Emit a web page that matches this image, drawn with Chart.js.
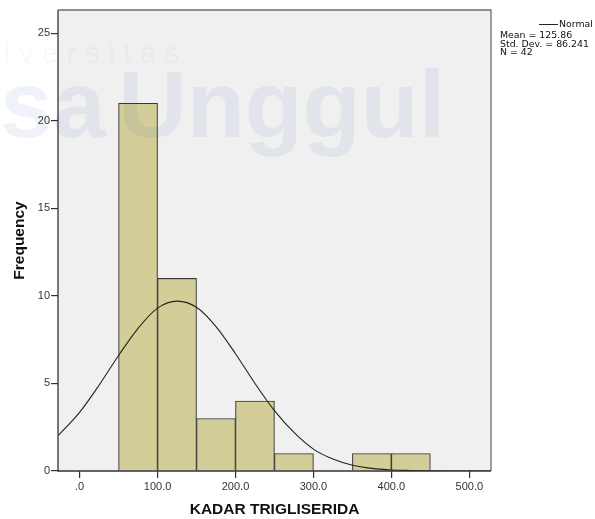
<!DOCTYPE html>
<html>
<head>
<meta charset="utf-8">
<script src="https://cdn.jsdelivr.net/npm/chart.js@4.4.1/dist/chart.umd.min.js"></script>
<style>
  body { margin: 0; background: #fff; }
  #wrap { position: relative; width: 595px; height: 519px; overflow: hidden; }
  #grafico { position: absolute; left: 0; top: 0; }
  .wm { position: absolute; pointer-events: none; white-space: nowrap; font-family: "Liberation Sans", Arial, sans-serif; }
  #wm1 { left: 4px; top: 37px; font-size: 29px; letter-spacing: 8.6px; color: rgba(38, 97, 180, 0.045); }
  #wm2 { left: 0px; top: 50px; font-size: 95px; font-weight: bold; word-spacing: -14px; color: rgba(38, 97, 180, 0.075); }
</style>
</head>
<body>
<div id="wrap">
  <canvas id="grafico" width="595" height="519"></canvas>
  <div class="wm" id="wm1">iversitas</div>
  <div class="wm" id="wm2">sa Unggul</div>
</div>
<script>
// dati istogramma (centri delle classi, ampiezza 50)
const centri = [75, 125, 175, 225, 275, 325, 375, 425];
const frequenze = [21, 11, 3, 4, 1, 0, 1, 1];

// curva normale
const curvaX = [-28, 0, 25, 50, 75, 100, 125, 150, 175, 200, 225, 250, 275, 300, 325, 350, 375, 400, 425, 450, 475, 500, 528];
const curvaY = [2.0, 3.35, 4.9, 6.6, 8.15, 9.3, 9.7, 9.35, 8.25, 6.7, 5.0, 3.45, 2.2, 1.25, 0.68, 0.33, 0.15, 0.06, 0.03, 0.01, 0, 0, 0];

const tickX = [0, 100, 200, 300, 400, 500];
const tickY = [0, 5, 10, 15, 20, 25];

const legenda = ['Mean = 125.86', 'Std. Dev. = 86.241', 'N = 42'];

const ctx = document.getElementById('grafico');

// sfondo, cornice e legenda
const cornice = {
  id: 'cornice',
  beforeDraw(chart) {
    const c = chart.ctx;
    const a = chart.chartArea;
    c.save();
    c.fillStyle = '#ffffff';
    c.fillRect(0, 0, chart.width, chart.height);
    c.fillStyle = '#f0f0f0';
    c.fillRect(a.left, a.top, a.right - a.left, a.bottom - a.top);
    c.restore();
  },
  afterDraw(chart) {
    const c = chart.ctx;
    const a = chart.chartArea;
    c.save();
    c.strokeStyle = '#6e6e6e';
    c.lineWidth = 1.3;
    c.beginPath();
    c.moveTo(a.left, a.top);
    c.lineTo(a.right, a.top);
    c.lineTo(a.right, a.bottom);
    c.stroke();
    c.strokeStyle = '#333333';
    c.beginPath();
    c.moveTo(a.left, a.top);
    c.lineTo(a.left, a.bottom);
    c.lineTo(a.right, a.bottom);
    c.stroke();

    // legenda
    c.strokeStyle = '#222';
    c.lineWidth = 1;
    c.beginPath();
    c.moveTo(539, 24.5);
    c.lineTo(558, 24.5);
    c.stroke();
    c.fillStyle = '#111';
    c.textBaseline = 'middle';
    c.font = '9.4px "DejaVu Sans", sans-serif';
    c.fillText('Normal', 559, 24.5);
    for (let i = 0; i < legenda.length; i++) {
      c.fillText(legenda[i], 500, 35.8 + i * 8.4);
    }
    c.restore();
  }
};

new Chart(ctx, {
  type: 'bar',
  data: {
    datasets: [{
      type: 'line',
      label: 'Normal',
      data: curvaX.map((x, i) => ({x: x, y: curvaY[i]})),
      borderColor: '#222',
      borderWidth: 1.1,
      pointRadius: 0,
      fill: false,
      cubicInterpolationMode: 'monotone',
      order: 0
    }, {
      label: 'Frequency',
      data: centri.map((x, i) => ({x: x, y: frequenze[i]})),
      backgroundColor: '#d3ce98',
      borderColor: '#363636',
      borderWidth: 1.1,
      barPercentage: 1,
      categoryPercentage: 1,
      order: 1
    }]
  },
  options: {
    responsive: false,
    animation: false,
    devicePixelRatio: 1,
    layout: { padding: { top: 10, right: 104, left: 0, bottom: 0 } },
    plugins: { legend: { display: false }, tooltip: { enabled: false } },
    scales: {
      x: {
        type: 'linear',
        min: -27.7,
        max: 527.8,
        offset: false,
        afterBuildTicks: s => { s.ticks = tickX.map(v => ({value: v})); },
        afterFit: s => { s.height = 48; },
        grid: { offset: false, drawOnChartArea: false, drawTicks: true, tickLength: 7, tickColor: '#333', lineWidth: 1.2 },
        border: { display: false },
        ticks: {
          padding: 2,
          color: '#333',
          font: { family: '"Liberation Sans", Arial, sans-serif', size: 11 },
          callback: v => v === 0 ? '.0' : v.toFixed(1),
          maxRotation: 0
        },
        title: {
          display: true,
          text: 'KADAR TRIGLISERIDA',
          color: '#111',
          font: { family: '"Liberation Sans", Arial, sans-serif', size: 15.5, weight: 'bold' },
          padding: { top: 0, bottom: 0 }
        }
      },
      y: {
        min: 0,
        max: 26.33,
        afterBuildTicks: s => { s.ticks = tickY.map(v => ({value: v})); },
        afterFit: s => { s.width = 58; },
        grid: { drawOnChartArea: false, drawTicks: true, tickLength: 7, tickColor: '#333', lineWidth: 1.2 },
        border: { display: false },
        ticks: {
          padding: 1,
          color: '#333',
          font: { family: '"Liberation Sans", Arial, sans-serif', size: 11 }
        },
        title: {
          display: true,
          text: 'Frequency',
          color: '#111',
          font: { family: '"Liberation Sans", Arial, sans-serif', size: 15.5, weight: 'bold' },
          padding: { top: 10, bottom: 0 }
        }
      }
    }
  },
  plugins: [cornice]
});
</script>
</body>
</html>
